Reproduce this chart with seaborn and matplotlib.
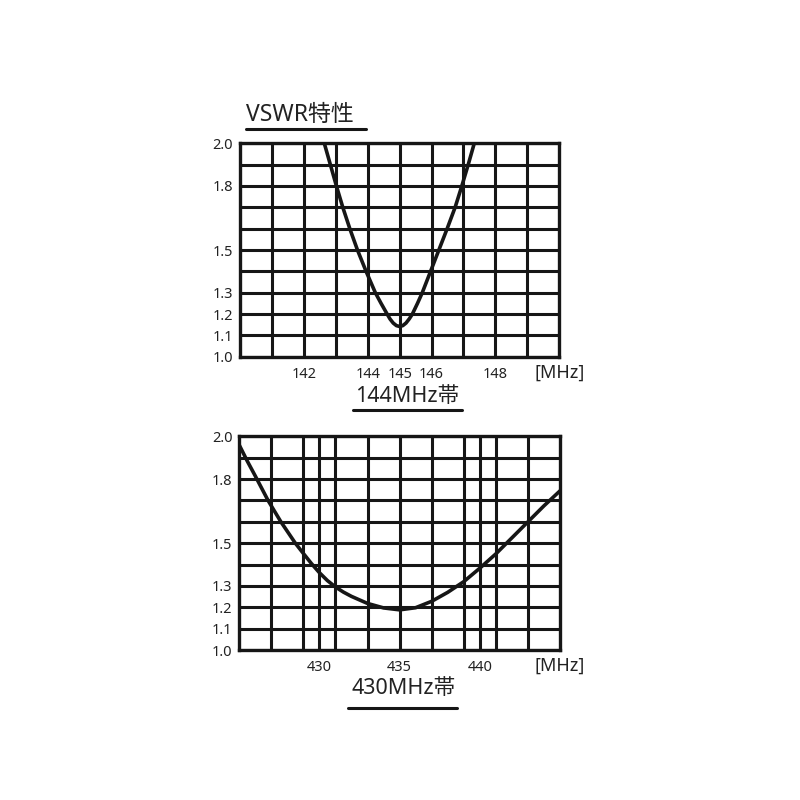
import pandas as pd
import seaborn as sns
import matplotlib.pyplot as plt
from matplotlib.lines import Line2D

# 144MHz band curve
freq_144 = [142.64, 142.83, 143.02, 143.22, 143.44, 143.68, 143.95, 144.24, 144.42,
            144.61, 144.70, 144.80, 144.90, 145.0, 145.10, 145.20, 145.30, 145.40,
            145.56, 145.71, 145.97, 146.23, 146.49, 146.74, 146.95, 147.15, 147.34]
vswr_144 = [2.0, 1.9, 1.8, 1.7, 1.6, 1.5, 1.4, 1.3, 1.25,
            1.2, 1.177, 1.158, 1.146, 1.142, 1.146, 1.158, 1.177, 1.2,
            1.25, 1.3, 1.4, 1.5, 1.6, 1.7, 1.8, 1.9, 2.0]

# 430MHz band curve
freq_430 = [425.0, 425.5, 426.0, 426.8, 427.6, 428.5, 429.0, 429.5, 430.0, 430.5,
            431.0, 431.5, 432.0, 433.0, 434.0, 435.0, 436.0, 437.0, 438.0, 439.0,
            440.0, 441.0, 442.0, 443.0, 444.0, 445.0]
vswr_430 = [1.96, 1.885, 1.815, 1.70, 1.60, 1.50, 1.452, 1.405, 1.362, 1.325,
            1.295, 1.271, 1.251, 1.218, 1.197, 1.188, 1.198, 1.228, 1.27, 1.32,
            1.383, 1.45, 1.525, 1.60, 1.675, 1.745]

# grid and tick labels
grid_x_144 = [141, 142, 143, 144, 145, 146, 147, 148, 149]
label_x_144 = [142, 144, 145, 146, 148]
grid_x_430 = [427, 429, 430, 431, 433, 435, 437, 439, 440, 441, 443]
label_x_430 = [430, 435, 440]
grid_y = [1.1, 1.2, 1.3, 1.4, 1.5, 1.6, 1.7, 1.8, 1.9]
label_y = [1.0, 1.1, 1.2, 1.3, 1.5, 1.8, 2.0]

sns.set_style("white")
plt.rcParams['font.family'] = ['Noto Sans', 'Noto Sans CJK JP']

ink = '#161616'
fig = plt.figure(figsize=(8, 8), dpi=100)


def draw_band(rect, freq, vswr, xlim, grid_x, label_x):
    ax = fig.add_axes(rect)
    df = pd.DataFrame({'freq': freq, 'vswr': vswr})
    sns.lineplot(data=df, x='freq', y='vswr', ax=ax, color=ink, lw=2.6,
                 estimator=None, sort=False, solid_joinstyle='round', zorder=5)
    ax.set_xlim(*xlim)
    ax.set_ylim(1.0, 2.0)
    ax.set_xticks(label_x)
    ax.set_xticklabels([str(v) for v in label_x])
    ax.set_xticks(grid_x, minor=True)
    ax.set_yticks(label_y)
    ax.set_yticklabels(['%.1f' % v for v in label_y])
    ax.set_yticks(grid_y, minor=True)
    ax.grid(True, which='both', color=ink, lw=2.2)
    ax.tick_params(which='both', length=0, labelsize=10.5, labelcolor='#222')
    ax.tick_params(axis='x', pad=7)
    ax.tick_params(axis='y', pad=5)
    for s in ax.spines.values():
        s.set_color(ink)
        s.set_linewidth(2.4)
    ax.set_xlabel('')
    ax.set_ylabel('')
    ax.annotate('[MHz]', xy=(1.0, 0), xycoords='axes fraction', xytext=(0, -5),
                textcoords='offset points', ha='center', va='top',
                fontsize=13, color='#222')
    return ax


draw_band([0.300, 0.554, 0.399, 0.267], freq_144, vswr_144, (140, 150),
          grid_x_144, label_x_144)
draw_band([0.299, 0.1875, 0.401, 0.267], freq_430, vswr_430, (425, 445),
          grid_x_430, label_x_430)

# titles with underlines
fig.text(0.3075, 0.849, 'VSWR特性', fontsize=16.5, color='#222', ha='left', va='baseline')
fig.add_artist(Line2D([0.308, 0.457], [0.839, 0.839], transform=fig.transFigure,
                      color=ink, lw=2.2))
fig.text(0.509, 0.498, '144MHz帯', fontsize=15.5, color='#222', ha='center', va='baseline')
fig.add_artist(Line2D([0.441, 0.577], [0.488, 0.488], transform=fig.transFigure,
                      color=ink, lw=2.2))
fig.text(0.504, 0.132, '430MHz帯', fontsize=15.5, color='#222', ha='center', va='baseline')
fig.add_artist(Line2D([0.435, 0.571], [0.115, 0.115], transform=fig.transFigure,
                      color=ink, lw=2.2))

fig.savefig('out.png', dpi=100)
